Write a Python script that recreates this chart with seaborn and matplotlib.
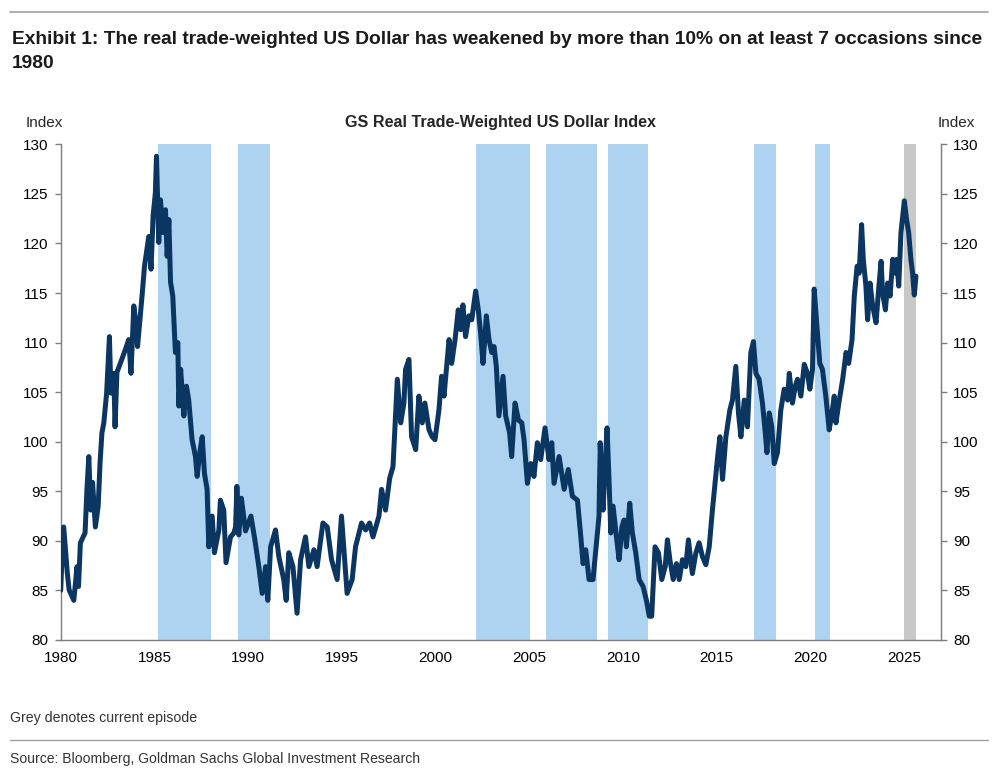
import matplotlib
matplotlib.use("Agg")
import matplotlib.pyplot as plt
import seaborn as sns
import pandas as pd

# ---------------- data ----------------
years = [
    1980.0, 1980.05, 1980.16, 1980.35, 1980.45, 1980.7, 1980.87, 1980.95, 1981.05, 1981.3,
    1981.4, 1981.5, 1981.6, 1981.7, 1981.85, 1982.0, 1982.1, 1982.2, 1982.3, 1982.45,
    1982.6, 1982.68, 1982.83, 1982.9, 1983.0, 1983.2, 1983.45, 1983.63, 1983.75, 1983.9,
    1984.04, 1984.1, 1984.34, 1984.47, 1984.7, 1984.82, 1984.93, 1985.05, 1985.11, 1985.18,
    1985.23, 1985.32, 1985.46, 1985.59, 1985.68, 1985.77, 1985.86, 1985.98, 1986.12, 1986.25,
    1986.3, 1986.4, 1986.57, 1986.71, 1986.83, 1987.01, 1987.19, 1987.28, 1987.42, 1987.55,
    1987.67, 1987.81, 1987.9, 1988.08, 1988.2, 1988.44, 1988.52, 1988.7, 1988.82, 1989.06,
    1989.24, 1989.33, 1989.4, 1989.5, 1989.64, 1989.86, 1990.15, 1990.36, 1990.57, 1990.75,
    1990.93, 1991.05, 1991.2, 1991.46, 1991.64, 1991.9, 1992.03, 1992.17, 1992.39, 1992.61,
    1992.8, 1993.06, 1993.24, 1993.51, 1993.68, 1993.99, 1994.22, 1994.45, 1994.75, 1994.98,
    1995.1, 1995.28, 1995.55, 1995.73, 1996.05, 1996.27, 1996.48, 1996.66, 1996.98, 1997.12,
    1997.33, 1997.55, 1997.73, 1997.96, 1998.14, 1998.31, 1998.4, 1998.58, 1998.72, 1998.94,
    1999.11, 1999.29, 1999.43, 1999.65, 1999.82, 1999.97, 2000.18, 2000.32, 2000.45, 2000.72,
    2000.86, 2001.04, 2001.21, 2001.34, 2001.46, 2001.6, 2001.78, 2001.93, 2002.14, 2002.28,
    2002.4, 2002.53, 2002.71, 2002.85, 2003.0, 2003.12, 2003.24, 2003.38, 2003.6, 2003.74,
    2003.95, 2004.06, 2004.24, 2004.42, 2004.6, 2004.72, 2004.9, 2005.08, 2005.25, 2005.43,
    2005.61, 2005.84, 2006.05, 2006.2, 2006.32, 2006.59, 2006.86, 2007.08, 2007.3, 2007.57,
    2007.75, 2007.87, 2008.01, 2008.19, 2008.4, 2008.55, 2008.72, 2008.78, 2008.94, 2009.04,
    2009.15, 2009.26, 2009.35, 2009.47, 2009.65, 2009.79, 2009.94, 2010.06, 2010.18, 2010.36,
    2010.5, 2010.68, 2010.86, 2011.07, 2011.25, 2011.4, 2011.53, 2011.6, 2011.71, 2011.89,
    2012.07, 2012.25, 2012.37, 2012.5, 2012.68, 2012.85, 2013.0, 2013.17, 2013.35, 2013.49,
    2013.7, 2013.89, 2014.06, 2014.24, 2014.42, 2014.6, 2014.77, 2014.95, 2015.05, 2015.17,
    2015.31, 2015.49, 2015.7, 2015.84, 2016.02, 2016.16, 2016.29, 2016.47, 2016.64, 2016.82,
    2016.96, 2017.09, 2017.26, 2017.44, 2017.59, 2017.68, 2017.8, 2017.94, 2018.07, 2018.24,
    2018.42, 2018.6, 2018.78, 2018.87, 2019.04, 2019.19, 2019.31, 2019.49, 2019.67, 2019.84,
    2019.97, 2020.11, 2020.2, 2020.32, 2020.5, 2020.64, 2020.82, 2021.0, 2021.15, 2021.27,
    2021.36, 2021.54, 2021.72, 2021.9, 2022.04, 2022.22, 2022.34, 2022.49, 2022.6, 2022.73,
    2022.82, 2022.96, 2023.05, 2023.18, 2023.32, 2023.5, 2023.64, 2023.77, 2023.85, 2024.0,
    2024.12, 2024.25, 2024.39, 2024.53, 2024.6, 2024.71, 2024.83, 2025.01, 2025.13, 2025.24,
    2025.36, 2025.45, 2025.54, 2025.63,
]
index_values = [
    85.0, 87.4, 91.4, 86.8, 85.05, 84.0, 87.4, 85.4, 89.8, 90.8,
    95.2, 98.5, 93.1, 95.9, 91.4, 93.5, 97.9, 100.9, 101.9, 104.9,
    110.6, 104.9, 106.9, 101.5, 107.0, 108.0, 109.3, 110.3, 106.9, 113.7,
    111.6, 109.6, 114.7, 117.7, 120.7, 117.4, 122.8, 125.1, 128.8, 123.8,
    120.1, 124.4, 121.1, 123.4, 118.7, 122.4, 116.1, 114.7, 109.0, 110.0,
    103.6, 107.3, 102.6, 105.6, 104.2, 100.2, 98.5, 96.5, 98.9, 100.5,
    96.8, 95.2, 89.4, 92.5, 88.8, 91.1, 94.1, 93.1, 87.8, 90.4,
    90.8, 91.4, 95.5, 90.6, 94.3, 91.0, 92.5, 90.1, 87.4, 84.7,
    87.4, 84.0, 89.4, 91.1, 88.4, 86.1, 84.0, 88.8, 87.4, 82.7,
    88.1, 90.4, 87.4, 89.1, 87.4, 91.8, 91.4, 88.1, 86.1, 92.5,
    89.4, 84.7, 86.1, 89.4, 91.8, 91.1, 91.8, 90.4, 92.5, 95.2,
    93.1, 96.3, 97.5, 106.3, 101.9, 103.9, 107.3, 108.3, 100.5, 99.2,
    104.6, 101.9, 103.9, 101.2, 100.5, 100.2, 103.2, 106.6, 104.6, 110.3,
    107.9, 110.3, 113.3, 111.3, 113.8, 110.6, 112.7, 112.3, 115.2, 113.3,
    111.0, 107.9, 112.7, 110.3, 109.0, 109.6, 107.6, 102.6, 106.6, 102.6,
    100.9, 98.5, 103.9, 102.2, 101.9, 100.2, 95.8, 97.8, 96.5, 99.9,
    98.2, 101.4, 98.2, 99.9, 95.8, 98.5, 95.2, 97.2, 94.5, 94.1,
    90.4, 87.7, 89.1, 86.1, 86.1, 89.1, 92.5, 99.9, 93.1, 97.5,
    101.4, 95.8, 90.8, 93.5, 90.4, 88.1, 91.4, 92.1, 89.4, 93.8,
    90.8, 88.8, 86.1, 85.4, 84.0, 82.4, 82.4, 85.05, 89.4, 88.8,
    86.1, 87.4, 90.1, 88.1, 86.1, 87.7, 86.1, 88.1, 87.4, 90.1,
    86.7, 88.8, 89.8, 88.4, 87.6, 89.4, 93.1, 96.5, 98.5, 100.5,
    96.2, 100.5, 103.2, 104.2, 107.6, 102.9, 100.5, 104.2, 101.5, 109.0,
    110.1, 106.9, 106.3, 103.9, 100.9, 98.9, 102.9, 101.5, 97.8, 98.9,
    103.2, 105.3, 104.2, 106.9, 103.9, 105.6, 106.3, 104.6, 107.8, 106.9,
    105.3, 107.3, 115.4, 112.3, 107.9, 107.3, 104.6, 101.2, 102.9, 104.6,
    101.9, 104.2, 106.3, 109.0, 107.9, 110.3, 114.7, 117.7, 117.0, 121.9,
    118.4, 115.7, 112.3, 116.0, 113.7, 112.0, 115.4, 118.2, 115.0, 113.3,
    116.0, 114.7, 118.4, 117.0, 118.4, 115.7, 121.1, 124.3, 122.4, 121.1,
    118.4, 117.0, 114.8, 116.7,
]

# episodes of >10% weakening (start, end); last one is the current episode
episode_starts = [1985.2, 1989.45, 2002.15, 2005.9, 2009.2, 2017.0, 2020.25]
episode_ends = [1988.03, 1991.15, 2005.05, 2008.6, 2011.35, 2018.15, 2021.05]
current_start = 2025.0
current_end = 2025.65

x_ticks = [1980, 1985, 1990, 1995, 2000, 2005, 2010, 2015, 2020, 2025]
y_ticks = [80, 85, 90, 95, 100, 105, 110, 115, 120, 125, 130]

title_line1 = "Exhibit 1: The real trade-weighted US Dollar has weakened by more than 10% on at least 7 occasions since"
title_line2 = "1980"
chart_title = "GS Real Trade-Weighted US Dollar Index"
note_text = "Grey denotes current episode"
source_text = "Source: Bloomberg, Goldman Sachs Global Investment Research"

# ---------------- styling ----------------
sns.set_style("white")
plt.rcParams["font.family"] = ["Liberation Sans", "DejaVu Sans"]

LINE = "#0b3661"
BAND = "#aed3f1"
GREY_BAND = "#c8c8c8"
AXC = "#7f7f7f"

W, H = 993, 771
fig = plt.figure(figsize=(W / 100, H / 100), dpi=100)
fig.patch.set_facecolor("white")

ax_l, ax_r, ax_t, ax_b = 60.7, 940.7, 144.3, 640.0
ax = fig.add_axes([ax_l / W, 1 - ax_b / H, (ax_r - ax_l) / W, (ax_b - ax_t) / H])

df = pd.DataFrame({"year": years, "value": index_values})

for s, e in zip(episode_starts, episode_ends):
    ax.axvspan(s, e, color=BAND, lw=0, zorder=0)
ax.axvspan(current_start, current_end, color=GREY_BAND, lw=0, zorder=0)

sns.lineplot(data=df, x="year", y="value", ax=ax, color=LINE, linewidth=3.6,
             solid_joinstyle="round", solid_capstyle="round", zorder=3)

ax.set_xlim(1980, 2026.95)
ax.set_ylim(80, 130)
ax.set_xticks(x_ticks)
ax.set_yticks(y_ticks)
ax.set_xlabel("")
ax.set_ylabel("")
ax.grid(False)

for side in ["left", "bottom", "right"]:
    ax.spines[side].set_color(AXC)
    ax.spines[side].set_linewidth(1.0)
ax.spines["top"].set_visible(False)
ax.tick_params(axis="both", direction="out", length=4, width=1, color=AXC,
               labelsize=11, labelcolor="black", pad=4)
ax.tick_params(axis="y", pad=5)

ax2 = ax.twinx()
ax2.set_ylim(80, 130)
ax2.set_yticks(y_ticks)
ax2.spines["top"].set_visible(False)
ax2.spines["left"].set_visible(False)
ax2.spines["bottom"].set_visible(False)
ax2.spines["right"].set_color(AXC)
ax2.tick_params(axis="y", direction="out", length=4, width=1, color=AXC,
                labelsize=11, labelcolor="black", pad=5)
ax2.grid(False)

renderer = fig.canvas.get_renderer()


def fit_text(x_px, y_px, s, target_w, size, **kw):
    """Place text and scale its font size so it spans target_w pixels."""
    t = fig.text(x_px / W, 1 - y_px / H, s, fontsize=size, **kw)
    w = t.get_window_extent(renderer=renderer).width
    t.set_fontsize(size * target_w / w)
    return t


# texts
fig.text(44 / W, 1 - 123 / H, "Index", fontsize=11, ha="center", va="center")
fig.text(956 / W, 1 - 123 / H, "Index", fontsize=11, ha="center", va="center")
fit_text((ax_l + ax_r) / 2, 122, chart_title, 312, 11, fontweight="bold",
         ha="center", va="center")

t1 = fit_text(12, 40, title_line1, 972, 14, fontweight="bold", ha="left",
              va="center", color="#1a1a1a")
fig.text(12 / W, 1 - 64 / H, title_line2, fontsize=t1.get_fontsize(), fontweight="bold",
         ha="left", va="center", color="#1a1a1a")

fit_text(10, 718, note_text, 185, 11, ha="left", va="center", color="#333333")
fit_text(10, 759, source_text, 406, 11, ha="left", va="center", color="#333333")

# separator lines
fig.add_artist(plt.Line2D([10 / W, 988 / W], [1 - 12 / H, 1 - 12 / H], color="#a0a0a0", lw=1.2))
fig.add_artist(plt.Line2D([10 / W, 988 / W], [1 - 740 / H, 1 - 740 / H], color="#a0a0a0", lw=1.0))

fig.savefig("out.png", dpi=100, facecolor="white")
